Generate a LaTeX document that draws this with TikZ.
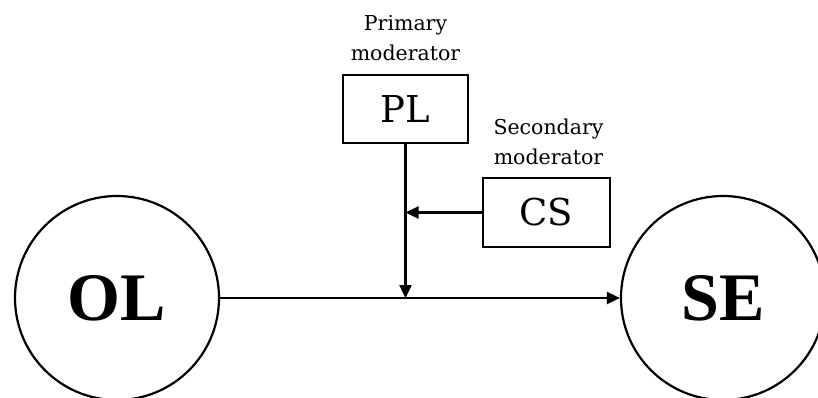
\documentclass[tikz,border=0pt]{standalone}
\usepackage{fontspec}
\setmainfont{DejaVu Serif}
\newfontfamily\tnr{Liberation Serif}
\usetikzlibrary{arrows.meta}
\begin{document}
\begin{tikzpicture}[x=1pt,y=-1pt,line width=2.4pt,
  var/.style={circle,draw,line width=2.2pt,minimum size=204pt,inner sep=0pt,
    font=\tnr\bfseries\fontsize{68}{72}\selectfont},
  modbox/.style={draw,line width=2.2pt,inner sep=0pt,font=\fontsize{37}{40}\selectfont},
  modlabel/.style={align=center,inner sep=0pt,anchor=south,
    font=\fontsize{20.5}{30}\selectfont},
  tip/.style={line width=2.4pt,-{Triangle[length=13pt,width=12pt]}}]
\useasboundingbox (0,0) rectangle (818,397);
\node[var] (OL) at (117,298) {OL};
\node[var] (SE) at (723,298) {SE};
\node[modbox,minimum width=125pt,minimum height=68pt] (PL) at (405.5,109) {PL};
\node[modbox,minimum width=127pt,minimum height=69pt] (CS) at (546.5,212.5) {CS};
\node[modlabel] (PLlab) at ([yshift=12pt]PL.north) {Primary\\moderator};
\node[modlabel] (CSlab) at ([xshift=2pt,yshift=11pt]CS.north) {Secondary\\moderator};
\draw[tip] (OL.east) -- (SE.west);
\draw[tip] (PL.south) -- (PL.south |- OL.east);
\draw[tip] (CS.west) -- (CS.west -| PL.south);
\end{tikzpicture}
\end{document}
